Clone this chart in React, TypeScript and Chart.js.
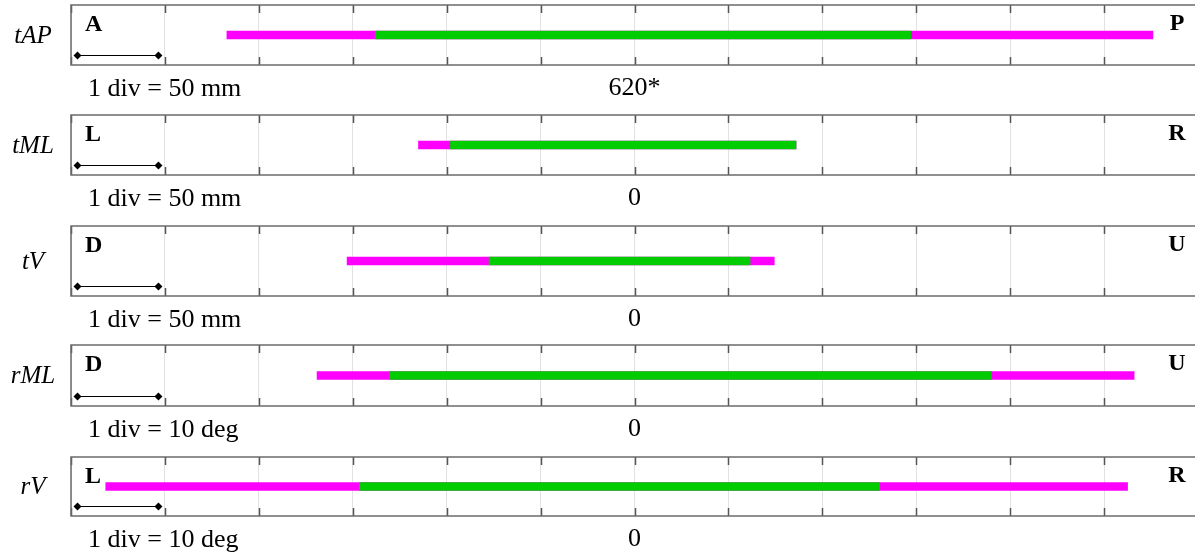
import React, { useEffect, useRef } from 'react';
import { Chart, registerables } from 'chart.js';

Chart.register(...registerables);

// ---- data ----
const panelNames = ['tAP', 'tML', 'tV', 'rML', 'rV'];
const leftLetters = ['A', 'L', 'D', 'D', 'L'];
const rightLetters = ['P', 'R', 'U', 'U', 'R'];
const centerLabels = ['620*', '0', '0', '0', '0'];
const divSizes = [50, 50, 50, 10, 10];
const unitNames = ['mm', 'mm', 'mm', 'deg', 'deg'];
// full range (magenta)
const fullRanges: number[][] = [
  [-217, 276],
  [-115, 86],
  [-153, 74.4],
  [-33.8, 53.2],
  [-56.3, 52.5],
];
// core range (green)
const coreRanges: number[][] = [
  [-138, 147],
  [-98, 86],
  [-77.4, 61.5],
  [-26.1, 38],
  [-29.3, 26.1],
];

// ---- layout (not data) ----
const boxTops = [5, 115, 226, 345, 457];
const boxHeights = [60, 60, 70, 61, 59];
const CANVAS_W = 1210;
const PAD_TOP = 4;
const AXIS_H = 45;
const SERIF = '"Liberation Serif", "Times New Roman", serif';

function makePlugin(i: number) {
  return {
    id: 'panelDecor' + i,
    afterDraw(chart: any) {
      const { ctx, chartArea } = chart;
      const { left, right, top, bottom } = chartArea;
      const x = chart.scales.x;
      ctx.save();
      // tick marks at top and bottom
      ctx.strokeStyle = '#555555';
      ctx.lineWidth = 1.5;
      x.ticks.forEach((t: any) => {
        const px = Math.round(x.getPixelForValue(t.value)) + 0.5;
        ctx.beginPath();
        ctx.moveTo(px, top);
        ctx.lineTo(px, top + 8);
        ctx.moveTo(px, bottom - 8);
        ctx.lineTo(px, bottom);
        ctx.stroke();
      });
      // frame
      ctx.strokeStyle = '#6b6b6b';
      ctx.lineWidth = 1.5;
      ctx.strokeRect(left, top, right - left, bottom - top);

      // scale bar (1 div)
      const x0 = x.getPixelForValue(x.min) + 6.5;
      const x1 = x.getPixelForValue(x.min + divSizes[i]) - 6.5;
      const yb = bottom - 10;
      ctx.strokeStyle = '#000';
      ctx.lineWidth = 1;
      ctx.beginPath();
      ctx.moveTo(x0, yb + 0.5);
      ctx.lineTo(x1, yb + 0.5);
      ctx.stroke();
      ctx.fillStyle = '#000';
      [x0, x1].forEach((cx) => {
        ctx.beginPath();
        ctx.moveTo(cx - 4, yb + 0.5);
        ctx.lineTo(cx, yb - 3.5);
        ctx.lineTo(cx + 4, yb + 0.5);
        ctx.lineTo(cx, yb + 4.5);
        ctx.closePath();
        ctx.fill();
      });

      // direction letters
      ctx.fillStyle = '#000';
      ctx.font = 'bold 24px ' + SERIF;
      ctx.textBaseline = 'middle';
      ctx.textAlign = 'left';
      ctx.fillText(leftLetters[i], left + 14, top + 20);
      ctx.textAlign = 'center';
      ctx.fillText(rightLetters[i], 1177, top + 19);

      // panel name
      ctx.font = 'italic 25px ' + SERIF;
      ctx.textAlign = 'center';
      ctx.fillText(panelNames[i], 33, (top + bottom) / 2 + 1);

      // division label
      ctx.font = '26px ' + SERIF;
      ctx.textAlign = 'left';
      ctx.fillText('1 div = ' + divSizes[i] + ' ' + unitNames[i], 88, bottom + 24);
      ctx.restore();
    },
  };
}

function Panel({ i }: { i: number }) {
  const ref = useRef<HTMLCanvasElement | null>(null);
  useEffect(() => {
    if (!ref.current) return;
    const u = divSizes[i];
    const chart = new Chart(ref.current, {
      type: 'bar',
      data: {
        labels: [panelNames[i]],
        datasets: [
          {
            label: 'full',
            data: [fullRanges[i] as any],
            backgroundColor: '#ff00ff',
            barThickness: 8,
            grouped: false,
            order: 2,
          } as any,
          {
            label: 'core',
            data: [coreRanges[i] as any],
            backgroundColor: '#00cc00',
            barThickness: 8,
            grouped: false,
            order: 1,
          } as any,
        ],
      },
      options: {
        indexAxis: 'y',
        responsive: false,
        animation: false,
        layout: { padding: { left: 71, right: CANVAS_W - 1198, top: PAD_TOP, bottom: 0 } },
        plugins: { legend: { display: false }, tooltip: { enabled: false } },
        scales: {
          x: {
            type: 'linear',
            min: -6 * u,
            max: 6 * u,
            ticks: {
              stepSize: u,
              autoSkip: false,
              maxRotation: 0,
              padding: 8,
              color: '#000',
              font: { family: SERIF, size: 26 },
              callback: (v: any) => (Number(v) === 0 ? centerLabels[i] : ''),
            },
            grid: { color: '#e2e2e2', drawTicks: false, lineWidth: 1 },
            border: { display: false },
            afterFit: (s: any) => {
              s.height = AXIS_H;
            },
          },
          y: { display: false },
        },
      } as any,
      plugins: [makePlugin(i)],
    });
    return () => chart.destroy();
  }, [i]);
  const h = PAD_TOP + boxHeights[i] + AXIS_H;
  return (
    <div style={{ position: 'absolute', left: 0, top: boxTops[i] - PAD_TOP, width: CANVAS_W, height: h }}>
      <canvas ref={ref} width={CANVAS_W} height={h} style={{ display: 'block' }} />
    </div>
  );
}

export default function App() {
  return (
    <div
      style={{
        position: 'fixed',
        left: 0,
        top: 0,
        width: 1195,
        height: 556,
        overflow: 'hidden',
        background: '#fff',
      }}
    >
      {panelNames.map((_, i) => (
        <Panel key={i} i={i} />
      ))}
    </div>
  );
}
